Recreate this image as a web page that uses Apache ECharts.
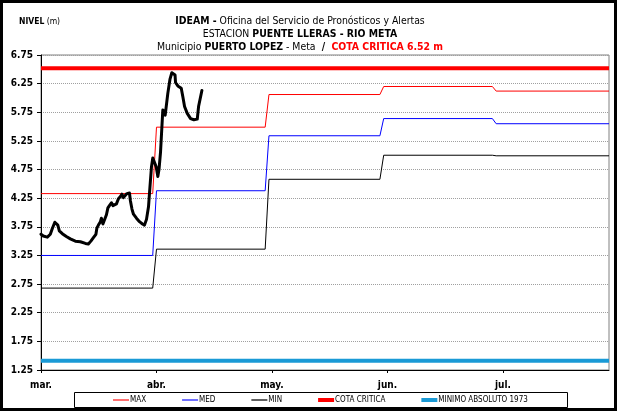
<!DOCTYPE html>
<html>
<head>
<meta charset="utf-8">
<script src="https://cdn.jsdelivr.net/npm/echarts@6/dist/echarts.min.js"></script>
<style>
html, body { margin: 0; padding: 0; background: #fff; }
#chart { width: 619px; height: 411px; }
</style>
</head>
<body>
<div id="chart"></div>
<script>
// Time axis in days counted from 1 March; month labels sit on these days.
const monthTickDays = [0, 30.5, 61, 91.5, 122];
const monthLabels = ['mar.', 'abr.', 'may.', 'jun.', 'jul.'];
const axisDays = [0, 150];

// Level axis tick labels (m)
const levelTicks = [1.25, 1.75, 2.25, 2.75, 3.25, 3.75, 4.25, 4.75, 5.25, 5.75, 6.25, 6.75];

// Historical monthly statistics (step curves)
const stepDays  = [0, 29.5, 30.5, 59.2, 60.2, 89.5, 90.5, 119.2, 120.2, 150];
const maxLevels = [4.33, 4.33, 5.49, 5.49, 6.06, 6.06, 6.20, 6.20, 6.12, 6.12];
const medLevels = [3.25, 3.25, 4.38, 4.38, 5.34, 5.34, 5.64, 5.64, 5.55, 5.55];
const minLevels = [2.68, 2.68, 3.36, 3.36, 4.58, 4.58, 5.00, 5.00, 4.99, 4.99];

// Reference levels
const cotaCritica = 6.52;
const minimoAbsoluto1973 = 1.41;

// Observed level at the station
const obsDays = [0, 0.6, 1.67, 2.46, 2.99, 3.65, 4.05, 4.44, 4.84, 5.63, 6.69, 7.75, 9.07,
  10.40, 11.72, 12.51, 13.17, 13.84, 14.50, 14.76, 15.16, 15.69, 15.95, 16.35, 16.75, 17.28,
  17.67, 18.07, 18.60, 19.00, 19.39, 19.92, 20.45, 20.98, 21.38, 21.77, 22.17, 22.70, 23.36,
  23.62, 24.02, 24.42, 25.21, 26.01, 26.80, 27.33, 27.86, 28.39, 28.78, 29.18, 29.52, 29.97,
  30.42, 30.85, 31.16, 31.56, 32.17, 32.80, 33.49, 34.07, 34.55, 35.00, 35.40, 35.53, 36.14,
  37.04, 37.46, 37.91, 38.62, 39.50, 40.37, 41.27, 41.61, 42.49];
const obsLevels = [3.62, 3.59, 3.57, 3.62, 3.72, 3.83, 3.84, 3.78, 3.68, 3.63, 3.58, 3.54, 3.50,
  3.49, 3.46, 3.45, 3.50, 3.56, 3.62, 3.73, 3.78, 3.84, 3.90, 3.80, 3.82, 3.96,
  4.08, 4.12, 4.17, 4.12, 4.11, 4.15, 4.24, 4.28, 4.32, 4.26, 4.24, 4.33, 4.34,
  4.20, 4.06, 3.97, 3.90, 3.84, 3.80, 3.78, 3.88, 4.10, 4.45, 4.80, 4.95, 4.92,
  4.80, 4.63, 4.75, 5.05, 5.79, 5.70, 6.08, 6.33, 6.44, 6.45, 6.40, 6.27, 6.21,
  6.17, 6.02, 5.85, 5.73, 5.64, 5.62, 5.63, 5.85, 6.13];

const FONT = "'Liberation Sans Narrow', 'Arial Narrow', 'DejaVu Sans Condensed', sans-serif";

// Legend swatches: thin bar for the statistics, thick bar for the reference levels
const THIN_BAR = 'path://M0,0 L16,0 L16,2 L0,2 Z';
const THICK_BAR = 'path://M0,0 L16,0 L16,4 L0,4 Z';

function pairs(xs, ys) { return xs.map((x, i) => [x, ys[i]]); }
function flat(v) { return axisDays.map(d => [d, v]); }

const chart = echarts.init(document.getElementById('chart'), null, { renderer: 'canvas' });

const TS = 10.4;
chart.setOption({
  animation: false,
  backgroundColor: '#fff',
  title: [
    {
      left: 295,
      top: 10,
      textAlign: 'center',
      text: '{b|IDEAM -} Oficina del Servicio de Pronósticos y Alertas\n' +
            'ESTACION {b|PUENTE LLERAS - RIO META}\n' +
            'Municipio {b|PUERTO LOPEZ} - Meta {b| / } {r|COTA CRITICA 6.52 m}',
      textStyle: {
        fontFamily: FONT, fontSize: TS, fontWeight: 'normal', color: '#000', lineHeight: 13,
        rich: {
          b: { fontFamily: FONT, fontSize: TS, fontWeight: 'bold', color: '#000', lineHeight: 13 },
          r: { fontFamily: FONT, fontSize: TS, fontWeight: 'bold', color: '#ff0000', lineHeight: 13 }
        }
      }
    },
    {
      left: 14,
      top: 12,
      text: '{b|NIVEL} (m)',
      textStyle: {
        fontFamily: FONT, fontSize: 8.5, fontWeight: 'normal', color: '#000',
        rich: { b: { fontFamily: FONT, fontSize: 8.5, fontWeight: 'bold', color: '#000' } }
      }
    }
  ],
  legend: {
    left: 113,
    top: 396,
    padding: 0,
    itemGap: 36,
    itemWidth: 16,
    itemHeight: 6,
    textStyle: { fontFamily: FONT, fontSize: 8, color: '#000', padding: [0, 0, 0, -4] },
    data: [
      { name: 'MAX', icon: THIN_BAR, itemStyle: { color: '#ff7070' } },
      { name: 'MED', icon: THIN_BAR, itemStyle: { color: '#7070ff' } },
      { name: 'MIN', icon: THIN_BAR, itemStyle: { color: '#606060' } },
      { name: 'COTA CRITICA', icon: THICK_BAR, itemStyle: { color: '#ff0000' } },
      { name: 'MINIMO ABSOLUTO 1973', icon: THICK_BAR, itemStyle: { color: '#1a9ad6' } }
    ]
  },
  grid: {
    left: 41, right: 10, top: 55, bottom: 41,
    show: true, borderColor: '#808080', borderWidth: 1
  },
  xAxis: {
    type: 'value',
    min: axisDays[0],
    max: axisDays[1],
    axisLine: { show: true, lineStyle: { color: '#000', width: 1 } },
    axisTick: { show: true, length: 3, customValues: monthTickDays, lineStyle: { color: '#000' } },
    axisLabel: {
      customValues: monthTickDays,
      formatter: v => monthLabels[monthTickDays.indexOf(v)],
      fontFamily: FONT, fontSize: 10, fontWeight: 'bold', color: '#000', margin: 10
    },
    splitLine: { show: false }
  },
  yAxis: {
    type: 'value',
    min: levelTicks[0],
    max: levelTicks[levelTicks.length - 1],
    interval: 0.5,
    axisLine: { show: true, lineStyle: { color: '#000', width: 1 } },
    axisTick: { show: true, length: 4, lineStyle: { color: '#000' } },
    axisLabel: {
      formatter: v => v.toFixed(2),
      fontFamily: FONT, fontSize: 10, fontWeight: 'bold', color: '#000', margin: 8
    },
    splitLine: { show: true, lineStyle: { color: '#a0a0a0', type: 'dotted', width: 1 } }
  },
  graphic: [
    {
      type: 'rect', silent: true,
      shape: { x: 1.5, y: 1.5, width: 614, height: 408 },
      style: { fill: 'none', stroke: '#000', lineWidth: 3 }
    },
    {
      type: 'rect', silent: true,
      shape: { x: 74.5, y: 392.5, width: 493, height: 15 },
      style: { fill: 'none', stroke: '#000', lineWidth: 1 }
    }
  ],
  series: [
    { name: 'MAX', type: 'line', data: pairs(stepDays, maxLevels), symbol: 'none',
      lineStyle: { color: '#ff0000', width: 1 }, itemStyle: { color: '#ff0000' }, z: 2 },
    { name: 'MED', type: 'line', data: pairs(stepDays, medLevels), symbol: 'none',
      lineStyle: { color: '#0000ff', width: 1 }, itemStyle: { color: '#0000ff' }, z: 2 },
    { name: 'MIN', type: 'line', data: pairs(stepDays, minLevels), symbol: 'none',
      lineStyle: { color: '#000000', width: 1 }, itemStyle: { color: '#000000' }, z: 2 },
    { name: 'COTA CRITICA', type: 'line', data: flat(cotaCritica), symbol: 'none',
      lineStyle: { color: '#ff0000', width: 4 }, itemStyle: { color: '#ff0000' }, z: 3 },
    { name: 'MINIMO ABSOLUTO 1973', type: 'line', data: flat(minimoAbsoluto1973), symbol: 'none',
      lineStyle: { color: '#1a9ad6', width: 4 }, itemStyle: { color: '#1a9ad6' }, z: 3 },
    { name: 'NIVEL', type: 'line', data: pairs(obsDays, obsLevels), symbol: 'none',
      lineStyle: { color: '#000000', width: 3, join: 'round', cap: 'round' }, z: 4 }
  ]
});
</script>
</body>
</html>
